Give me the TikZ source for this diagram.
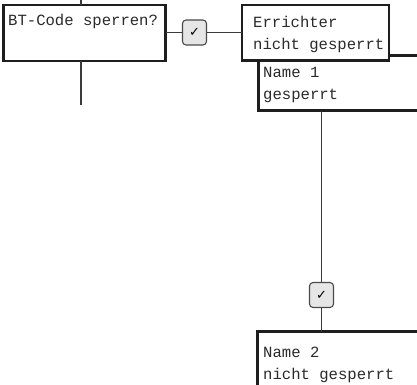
\documentclass[tikz,border=0pt]{standalone}
\usepackage{fontspec}
\setmonofont{Liberation Mono}
\newfontfamily\symfont{DejaVu Sans}
\usetikzlibrary{calc}
\definecolor{boxline}{HTML}{1E1E1E}
\definecolor{wire}{HTML}{3A3A3A}
\definecolor{txt}{HTML}{2A2A2A}
\definecolor{chkfill}{HTML}{E6E6E6}
\definecolor{chkline}{HTML}{4A4A4A}
\tikzset{
  stepbox/.style={draw=boxline, line width=2.8bp, fill=white, inner sep=0pt,
    outer sep=0pt, anchor=north west},
  boxtext/.style={anchor=base west, inner sep=0pt, text=txt,
    font=\fontsize{15.6bp}{20bp}\selectfont\ttfamily},
  chk/.style={draw=chkline, fill=chkfill, line width=1.1bp, rounded corners=3.5bp,
    minimum width=24bp, minimum height=25bp, inner sep=0pt,
    font=\fontsize{13bp}{14bp}\selectfont\symfont},
  wireline/.style={draw=wire, line width=1.9bp},
}
\begin{document}
\begin{tikzpicture}[x=1bp,y=-1bp]
\useasboundingbox (0,0) rectangle (417,385);
\clip (0,0) rectangle (417,385);

% question box and its vertical flow line
\node[stepbox, minimum width=162bp, minimum height=56bp] (q) at (3.5,5) {};
\node[boxtext] (qt) at (8,25) {BT-Code sperren?};
\coordinate (qin) at (81,0);
\coordinate (qout) at (81,105);
\draw[wireline] (qin) -- (qin |- q.north);
\draw[wireline] (qin |- q.south) -- (qout);

% yes branch
\node[chk] (c1) at (194.5,32.5) {✓};

% result boxes, the lower one sits behind the upper one
\node[stepbox, minimum width=160bp, minimum height=55bp] (n1) at (258.5,55.5) {};
\node[boxtext] (n1a) at (263,77) {Name 1};
\node[boxtext] (n1b) at (263,99) {gesperrt};

\node[stepbox, minimum width=147bp, minimum height=55.5bp] (e) at (242,5) {};
\node[boxtext] (ea) at (253,27) {Errichter};
\node[boxtext] (eb) at (253,49) {nicht gesperrt};

\draw[wireline] (q.east |- c1) -- (c1.west);
\draw[wireline] (c1.east) -- (e.west |- c1);

% second check and the last box
\node[chk] (c2) at (321.5,295) {✓};
\node[stepbox, minimum width=170bp, minimum height=70bp] (n2) at (257.5,331.5) {};
\node[boxtext] (n2a) at (263,357) {Name 2};
\node[boxtext] (n2b) at (263,379) {nicht gesperrt};

\draw[wireline] (c2.north |- n1.south) -- (c2.north);
\draw[wireline] (c2.south) -- (c2.south |- n2.north);
\end{tikzpicture}
\end{document}
